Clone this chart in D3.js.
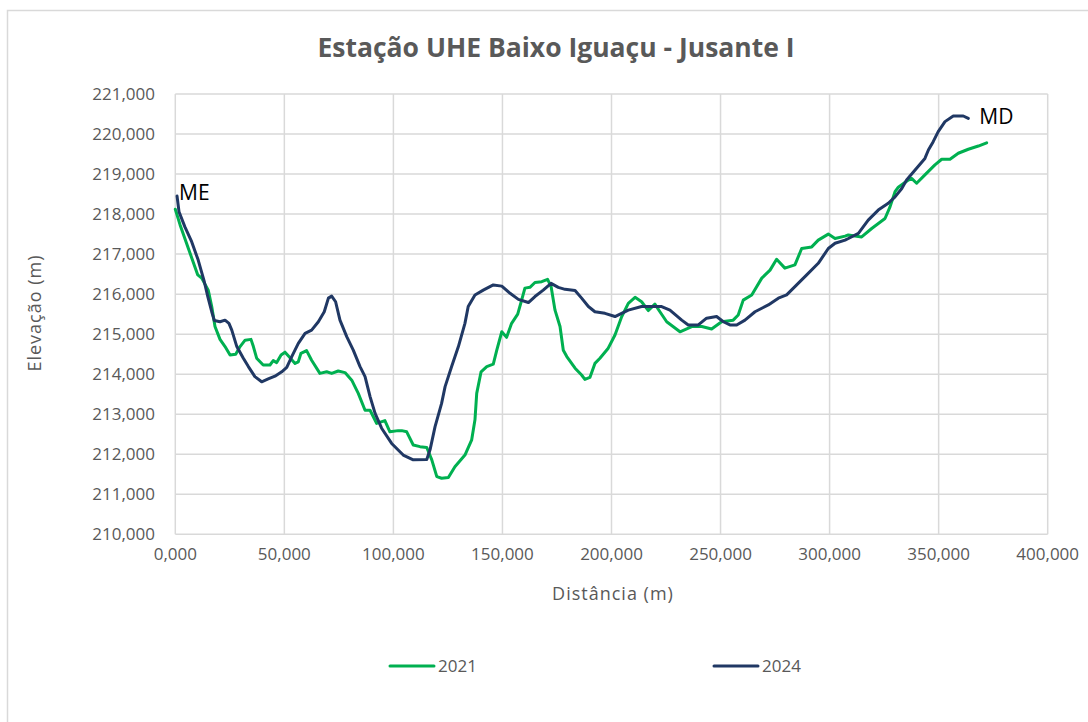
<!DOCTYPE html>
<html>
<head>
<meta charset="utf-8">
<script src="https://cdn.jsdelivr.net/npm/d3@7"></script>
<style>
  body { margin: 0; background: #fff; }
  text { font-family: "Open Sans", "Noto Sans", sans-serif; }
</style>
</head>
<body>
<svg id="chart" width="1088" height="722"></svg>
<script>
// Cross-section profiles, distance (m) / elevation (m)
const profile2021 = [
  [0.0,218.12],[2.2,217.73],[6.0,217.14],[10.3,216.48],[12.1,216.40],[15.1,216.10],[16.7,215.69],[18.2,215.19],
  [20.5,214.87],[22.8,214.69],[25.1,214.48],[27.7,214.50],[29.7,214.69],[32.0,214.85],[34.7,214.87],[35.8,214.69],
  [37.3,214.40],[40.3,214.23],[43.4,214.23],[44.9,214.34],[46.5,214.29],[48.5,214.48],[50.3,214.55],[52.1,214.44],
  [54.9,214.27],[56.4,214.31],[57.6,214.52],[60.2,214.59],[62.5,214.35],[66.3,214.02],[69.4,214.06],[71.7,214.02],
  [74.7,214.08],[77.8,214.04],[80.9,213.85],[83.9,213.52],[87.0,213.10],[89.3,213.10],[92.3,212.77],[96.1,212.84],
  [98.4,212.56],[102.2,212.59],[103.8,212.59],[106.1,212.56],[109.1,212.23],[112.2,212.19],[115.3,212.17],[117.6,211.86],
  [119.9,211.44],[122.1,211.40],[125.2,211.42],[128.2,211.69],[132.8,211.98],[135.9,212.36],[137.4,212.86],[138.2,213.52],
  [140.2,214.06],[142.8,214.19],[145.8,214.25],[147.4,214.60],[149.7,215.06],[151.9,214.92],[154.2,215.27],[157.0,215.50],
  [158.8,215.85],[160.3,216.15],[162.6,216.17],[164.9,216.29],[168.0,216.31],[170.7,216.37],[172.3,216.19],[174.1,215.60],
  [176.4,215.19],[177.9,214.60],[179.5,214.44],[183.3,214.15],[186.3,213.98],[187.8,213.87],[190.1,213.92],[192.4,214.27],
  [194.7,214.40],[198.5,214.65],[201.6,214.98],[204.7,215.44],[207.7,215.77],[210.8,215.92],[213.8,215.81],[216.9,215.59],
  [219.9,215.75],[222.2,215.56],[225.3,215.31],[231.4,215.06],[236.8,215.19],[241.4,215.19],[245.9,215.13],[250.5,215.31],
  [255.8,215.35],[258.1,215.48],[260.4,215.85],[264.3,215.98],[268.9,216.40],[272.7,216.60],[275.7,216.87],[279.5,216.65],
  [284.1,216.73],[287.2,217.14],[291.8,217.18],[294.8,217.35],[299.4,217.50],[302.5,217.39],[307.1,217.45],[308.6,217.48],
  [314.7,217.43],[319.3,217.64],[325.4,217.89],[327.7,218.18],[330.0,218.56],[331.5,218.67],[336.1,218.85],[337.6,218.89],
  [339.9,218.77],[343.7,218.98],[348.3,219.23],[351.4,219.37],[355.2,219.37],[359.0,219.52],[363.6,219.62],[368.2,219.70],
  [372.0,219.78]
];

const profile2024 = [
  [0.8,218.45],[1.7,218.06],[4.4,217.68],[7.5,217.31],[10.5,216.85],[11.8,216.60],[13.3,216.31],[14.9,215.94],
  [16.7,215.56],[17.9,215.34],[20.5,215.31],[22.8,215.35],[24.6,215.27],[25.9,215.10],[28.2,214.69],[31.2,214.40],
  [33.5,214.19],[36.5,213.94],[39.6,213.81],[42.6,213.88],[45.7,213.95],[48.8,214.06],[51.1,214.17],[53.4,214.44],
  [56.4,214.77],[59.5,215.02],[62.5,215.10],[65.6,215.31],[68.3,215.56],[70.2,215.90],[71.7,215.95],[73.5,215.81],
  [75.5,215.35],[78.6,214.94],[81.6,214.60],[84.7,214.19],[87.0,213.94],[89.3,213.44],[91.6,213.02],[94.6,212.65],
  [99.2,212.27],[104.5,211.98],[109.1,211.86],[115.3,211.87],[116.8,212.11],[119.1,212.69],[122.1,213.27],[123.7,213.69],
  [126.7,214.19],[129.8,214.69],[132.8,215.27],[134.3,215.69],[137.4,215.98],[141.2,216.10],[145.8,216.23],[149.7,216.20],
  [153.5,216.02],[157.3,215.87],[161.9,215.79],[164.9,215.94],[168.7,216.10],[172.3,216.27],[175.6,216.17],[178.7,216.12],
  [183.3,216.09],[186.3,215.90],[189.4,215.69],[192.4,215.56],[197.0,215.52],[201.6,215.44],[207.7,215.60],[213.8,215.69],
  [223.0,215.69],[226.8,215.60],[232.2,215.35],[235.2,215.23],[239.8,215.23],[243.6,215.40],[248.2,215.44],[251.3,215.31],
  [254.3,215.23],[257.4,215.23],[261.2,215.35],[265.8,215.56],[271.9,215.73],[276.5,215.90],[280.3,215.98],[284.9,216.23],
  [289.5,216.48],[294.8,216.77],[299.4,217.14],[302.5,217.27],[307.1,217.35],[308.6,217.39],[313.2,217.52],[317.7,217.85],
  [322.3,218.10],[326.9,218.27],[330.0,218.43],[333.1,218.64],[335.3,218.85],[339.2,219.10],[343.7,219.39],[345.3,219.60],
  [347.5,219.81],[349.8,220.06],[352.9,220.31],[356.7,220.45],[361.3,220.45],[363.6,220.39]
];

const seriesNames = ["2021", "2024"];
const seriesColors = ["#00B050", "#203864"];
const xTicks = [0, 50, 100, 150, 200, 250, 300, 350, 400];
const yTicks = [210, 211, 212, 213, 214, 215, 216, 217, 218, 219, 220, 221];

const ptBR = d3.formatLocale({ decimal: ",", thousands: ".", grouping: [3], currency: ["R$", ""] });
const fmt = ptBR.format(".3f");

const svg = d3.select("#chart");

// outer chart frame
svg.append("rect")
  .attr("x", 7.5).attr("y", 10.5)
  .attr("width", 1200).attr("height", 900)
  .attr("fill", "none").attr("stroke", "#d9d9d9").attr("stroke-width", 1.5);

const x = d3.scaleLinear().domain([0, 400]).range([175.3, 1047.7]);
const y = d3.scaleLinear().domain([210, 221]).range([534.3, 94]);

// grid
svg.append("g")
  .selectAll("line")
  .data(yTicks)
  .join("line")
  .attr("x1", x(0)).attr("x2", x(400))
  .attr("y1", d => y(d)).attr("y2", d => y(d))
  .attr("stroke", "#d9d9d9").attr("stroke-width", 1.5);

svg.append("g")
  .selectAll("line")
  .data(xTicks)
  .join("line")
  .attr("x1", d => x(d)).attr("x2", d => x(d))
  .attr("y1", y(210)).attr("y2", y(221))
  .attr("stroke", "#d9d9d9").attr("stroke-width", 1.5);

// tick labels
svg.append("g")
  .selectAll("text")
  .data(yTicks)
  .join("text")
  .attr("x", 155)
  .attr("y", d => y(d))
  .attr("dy", "0.35em")
  .attr("text-anchor", "end")
  .attr("fill", "#595959")
  .style("font-size", "17px")
  .text(d => fmt(d));

svg.append("g")
  .selectAll("text")
  .data(xTicks)
  .join("text")
  .attr("x", d => x(d))
  .attr("y", 560)
  .attr("text-anchor", "middle")
  .attr("fill", "#595959")
  .style("font-size", "17px")
  .text(d => fmt(d));

// axis titles
svg.append("text")
  .attr("x", 613).attr("y", 600)
  .attr("text-anchor", "middle")
  .attr("fill", "#595959")
  .style("font-size", "18px")
  .style("letter-spacing", "1px")
  .text("Distância (m)");

svg.append("text")
  .attr("transform", "translate(41,313) rotate(-90)")
  .attr("text-anchor", "middle")
  .attr("fill", "#595959")
  .style("font-size", "18px")
  .style("letter-spacing", "1px")
  .text("Elevação (m)");

// title
svg.append("text")
  .attr("x", 556).attr("y", 57)
  .attr("text-anchor", "middle")
  .attr("fill", "#595959")
  .style("font-size", "26.5px")
  .style("font-weight", "bold")
  .text("Estação UHE Baixo Iguaçu - Jusante I");

// lines
const line = d3.line().x(d => x(d[0])).y(d => y(d[1]));

[profile2021, profile2024].forEach((data, i) => {
  svg.append("path")
    .datum(data)
    .attr("d", line)
    .attr("fill", "none")
    .attr("stroke", seriesColors[i])
    .attr("stroke-width", 3)
    .attr("stroke-linejoin", "round")
    .attr("stroke-linecap", "round");
});

// bank labels on the 2024 profile
const first = profile2024[0], last = profile2024[profile2024.length - 1];
svg.append("text")
  .attr("x", x(first[0]) + 2).attr("y", y(first[1]) - 3)
  .attr("dy", "0.35em")
  .attr("fill", "#000")
  .style("font-size", "21px")
  .text("ME");

svg.append("text")
  .attr("x", x(last[0]) + 11).attr("y", y(last[1]) - 2)
  .attr("dy", "0.35em")
  .attr("fill", "#000")
  .style("font-size", "21px")
  .text("MD");

// legend
const legendX = [390, 714];
const legend = svg.append("g")
  .selectAll("g")
  .data(seriesNames)
  .join("g")
  .attr("transform", (d, i) => `translate(${legendX[i]},666)`);

legend.append("line")
  .attr("x1", 0).attr("x2", 44)
  .attr("stroke", (d, i) => seriesColors[i])
  .attr("stroke-width", 3)
  .attr("stroke-linecap", "round");

legend.append("text")
  .attr("x", 48)
  .attr("dy", "0.35em")
  .attr("fill", "#595959")
  .style("font-size", "17px")
  .text(d => d);
</script>
</body>
</html>
